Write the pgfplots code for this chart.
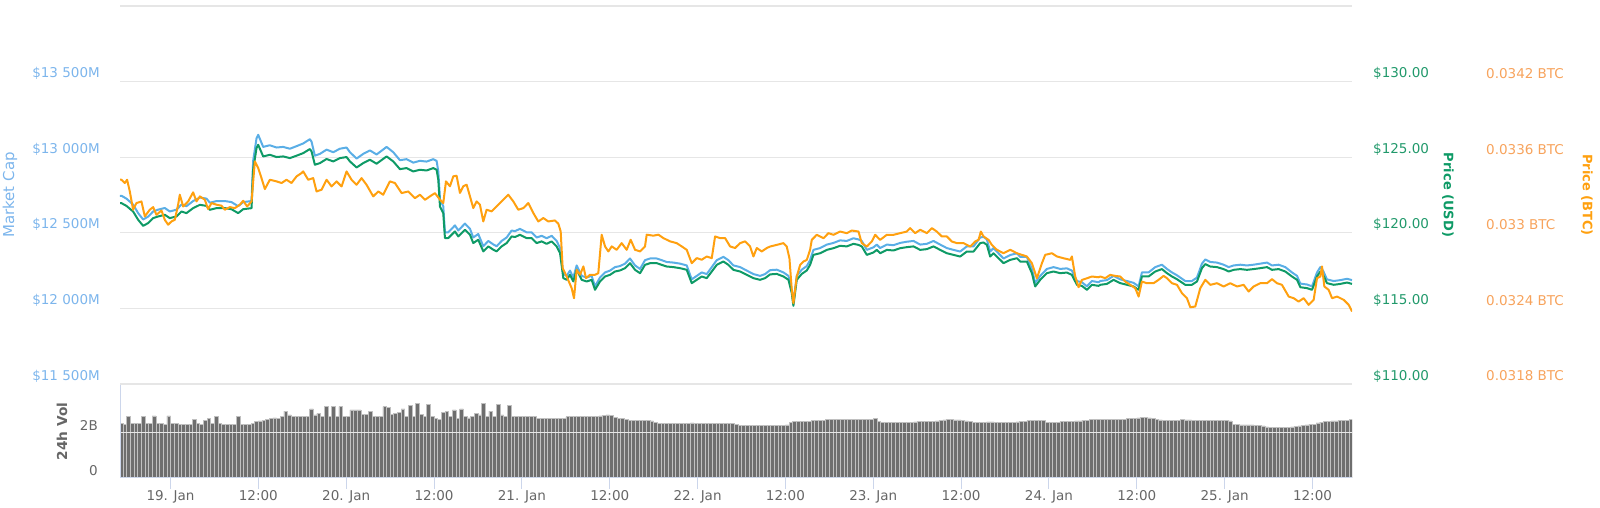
\documentclass[border=0pt]{standalone}
\usepackage{fontspec}
\setmainfont{DejaVu Sans}
\usepackage{pgfplots}
\usepackage{pgfplotstable}
\pgfplotsset{compat=1.18}
\definecolor{mcline}{HTML}{5AAEE6}
\definecolor{mctext}{HTML}{7CB5EC}
\definecolor{usdline}{HTML}{0E9A66}
\definecolor{usdtext}{HTML}{21996B}
\definecolor{btcline}{HTML}{FFA00F}
\definecolor{btctext}{HTML}{F7A35C}
\definecolor{gridc}{HTML}{E6E6E6}
\definecolor{axc}{HTML}{CCD6EB}
\definecolor{labc}{HTML}{666666}
\definecolor{volfill}{HTML}{6E6E6E}
\definecolor{voledge}{HTML}{C0C0C0}

% hours since 19 Jan 00:00, price in USD, market cap in million USD
\pgfplotstableread{
h P MC
-6.9 121.96 12745
-6.70 121.96 12745
-6.02 121.78 12726
-5.11 121.41 12687
-4.42 120.86 12630
-3.74 120.46 12588
-3.06 120.64 12607
-2.37 120.97 12641
-1.69 121.08 12653
-0.78 121.19 12664
-0.10 120.97 12641
0.82 121.08 12653
1.50 121.41 12687
2.18 121.30 12676
3.09 121.63 12710
4.01 121.85 12733
4.92 121.78 12726
5.37 121.52 12699
6.28 121.63 12710
7.42 121.63 12710
8.33 121.56 12703
9.24 121.30 12676
9.93 121.56 12703
11.07 121.63 12710
11.29 124.17 12976
11.75 125.60 13125
11.98 125.82 13148
12.66 125.05 13068
13.57 125.16 13079
14.48 125.01 13064
15.39 125.05 13068
16.31 124.94 13056
17.22 125.10 13073
18.13 125.27 13091
19.04 125.54 13119
19.27 125.38 13102
19.72 124.50 13010
20.41 124.61 13022
21.32 124.88 13050
22.23 124.72 13033
23.14 124.94 13056
24.05 125.01 13064
24.51 124.72 13033
25.42 124.32 12991
26.33 124.61 13022
27.24 124.83 13045
28.15 124.57 13018
29.52 125.05 13068
30.43 124.72 13033
31.34 124.21 12980
32.25 124.28 12987
33.16 124.06 12964
34.07 124.17 12976
34.98 124.12 12971
35.90 124.28 12987
36.35 124.17 12976
36.58 123.51 12907
36.81 121.74 12722
37.26 121.30 12676
37.49 119.65 12503
37.94 119.65 12503
38.40 119.87 12526
38.86 120.09 12549
39.31 119.76 12515
39.77 119.98 12538
40.22 120.20 12561
40.91 119.87 12526
41.36 119.32 12469
42.04 119.54 12492
42.73 118.77 12411
43.41 119.10 12446
44.10 118.88 12423
44.55 118.77 12411
45.23 119.10 12446
45.92 119.32 12469
46.60 119.76 12515
47.06 119.72 12511
47.74 119.87 12526
48.65 119.65 12503
49.33 119.65 12503
50.02 119.32 12469
50.70 119.43 12480
51.38 119.27 12464
52.07 119.43 12480
52.75 119.10 12446
53.21 118.66 12400
53.66 117.00 12227
54.12 116.89 12215
54.57 117.22 12250
55.03 116.78 12204
55.48 117.55 12284
56.17 116.89 12215
56.85 116.78 12204
57.53 116.89 12215
57.99 116.23 12146
58.67 116.78 12204
59.36 117.11 12238
60.04 117.22 12250
60.72 117.44 12273
61.41 117.51 12280
62.09 117.66 12296
62.77 117.99 12330
63.46 117.55 12284
64.14 117.33 12261
64.82 117.88 12319
65.51 117.99 12330
66.42 117.99 12330
67.10 117.88 12319
67.78 117.77 12307
68.70 117.73 12303
69.61 117.66 12296
70.52 117.55 12284
71.20 116.67 12192
71.89 116.89 12215
72.57 117.11 12238
73.25 117.00 12227
73.94 117.44 12273
74.62 117.88 12319
75.53 118.10 12341
76.21 117.88 12319
76.90 117.55 12284
77.81 117.44 12273
78.72 117.22 12250
79.63 117.00 12227
80.54 116.89 12215
81.22 117.00 12227
81.91 117.25 12253
82.82 117.28 12256
83.73 117.11 12238
84.41 116.89 12215
84.87 116.00 12122
85.09 115.17 12035
85.55 116.89 12215
86.23 117.28 12256
86.92 117.51 12280
87.37 117.88 12319
87.83 118.54 12387
88.74 118.65 12399
89.65 118.87 12422
90.56 118.98 12433
91.47 119.14 12450
92.38 119.10 12446
93.29 119.27 12464
93.98 119.20 12456
94.43 119.10 12446
95.12 118.54 12387
96.03 118.70 12404
96.48 118.87 12422
96.94 118.65 12399
97.85 118.87 12422
98.76 118.83 12418
99.67 118.98 12433
100.58 119.05 12441
101.50 119.10 12446
102.41 118.87 12422
103.32 118.92 12427
104.23 119.10 12446
105.14 118.87 12422
106.05 118.65 12399
106.96 118.54 12387
107.87 118.43 12376
108.78 118.76 12410
109.70 118.76 12410
110.61 119.32 12469
111.06 119.36 12473
111.52 119.20 12456
111.97 118.43 12376
112.43 118.65 12399
113.11 118.32 12364
113.80 117.99 12330
114.71 118.21 12353
115.62 118.32 12364
116.07 118.10 12341
116.98 118.10 12341
117.67 117.33 12261
118.12 116.45 12169
118.81 116.89 12215
119.72 117.33 12261
120.63 117.44 12273
121.54 117.33 12261
122.45 117.37 12265
123.13 117.22 12250
123.82 116.56 12181
124.50 116.49 12173
125.18 116.23 12146
125.87 116.56 12181
126.78 116.49 12173
127.01 116.56 12181
127.92 116.62 12187
128.83 116.89 12215
129.74 116.67 12192
130.65 116.56 12181
131.56 116.45 12169
132.25 116.23 12146
132.70 117.11 12238
133.61 117.11 12238
134.52 117.44 12273
135.43 117.60 12289
136.12 117.33 12261
136.80 117.11 12238
137.49 116.93 12219
138.62 116.56 12181
139.53 116.56 12181
140.22 116.78 12204
140.90 117.66 12296
141.36 117.93 12324
142.04 117.77 12307
142.95 117.73 12303
143.86 117.60 12289
144.55 117.44 12273
145.23 117.55 12284
146.14 117.60 12289
147.05 117.55 12284
147.96 117.60 12289
148.87 117.66 12296
149.79 117.73 12303
150.47 117.55 12284
151.38 117.60 12289
152.29 117.44 12273
153.20 117.11 12238
153.89 116.89 12215
154.34 116.40 12164
155.25 116.34 12158
155.94 116.23 12146
156.62 117.11 12238
157.07 117.44 12273
157.44 117.22 12250
157.98 116.67 12192
158.90 116.56 12181
159.81 116.62 12187
160.72 116.71 12196
161.40 116.62 12187
}\usddata

% price in BTC
\pgfplotstableread{
h B
-6.9 0.033421
-6.70 0.033421
-6.25 0.033395
-5.93 0.033421
-5.56 0.033328
-5.11 0.033183
-4.65 0.033236
-3.97 0.033249
-3.51 0.033130
-2.83 0.033183
-2.37 0.033204
-1.92 0.033143
-1.23 0.033177
-0.78 0.033103
-0.32 0.033064
0.13 0.033090
0.59 0.033103
1.04 0.033223
1.27 0.033302
1.73 0.033209
2.41 0.033249
3.09 0.033321
3.55 0.033249
4.01 0.033289
4.69 0.033262
5.14 0.033188
5.60 0.033236
6.28 0.033223
6.97 0.033215
7.42 0.033183
8.10 0.033204
8.79 0.033196
9.47 0.033223
9.93 0.033254
10.47 0.033209
11.07 0.033249
11.52 0.033567
11.98 0.033514
12.43 0.033434
12.89 0.033347
13.57 0.033421
14.48 0.033408
15.17 0.033395
15.85 0.033421
16.53 0.033395
17.22 0.033448
17.90 0.033474
18.13 0.033487
18.81 0.033421
19.49 0.033434
19.95 0.033328
20.63 0.033342
21.32 0.033421
22.00 0.033368
22.68 0.033408
23.37 0.033368
24.05 0.033487
24.73 0.033421
25.42 0.033381
26.10 0.033434
26.78 0.033381
27.69 0.033289
28.38 0.033328
29.06 0.033302
29.97 0.033408
30.66 0.033395
31.57 0.033315
32.48 0.033328
33.39 0.033275
34.07 0.033302
34.76 0.033262
35.44 0.033289
36.12 0.033315
36.81 0.033263
37.26 0.033236
37.63 0.033408
38.17 0.033369
38.63 0.033448
39.08 0.033453
39.54 0.033316
39.99 0.033369
40.45 0.033382
40.91 0.033289
41.36 0.033196
41.82 0.033249
42.27 0.033223
42.73 0.033090
43.18 0.033183
43.87 0.033170
44.55 0.033210
45.46 0.033263
46.14 0.033302
46.83 0.033249
47.51 0.033183
48.20 0.033196
48.88 0.033236
49.56 0.033157
50.24 0.033090
50.93 0.033117
51.61 0.033090
52.52 0.033098
52.98 0.033072
53.30 0.033011
53.57 0.032720
54.12 0.032653
54.80 0.032561
55.12 0.032481
55.48 0.032706
55.94 0.032667
56.40 0.032733
56.76 0.032640
57.31 0.032667
57.99 0.032667
58.44 0.032680
58.90 0.032985
59.36 0.032892
59.81 0.032852
60.27 0.032892
60.95 0.032865
61.63 0.032918
62.32 0.032865
62.86 0.032945
63.46 0.032865
64.14 0.032852
64.82 0.032892
65.05 0.032985
65.96 0.032977
66.65 0.032985
67.33 0.032958
68.24 0.032932
69.15 0.032918
69.83 0.032892
70.52 0.032865
71.20 0.032759
71.89 0.032799
72.57 0.032786
73.25 0.032812
73.94 0.032799
74.39 0.032971
75.07 0.032958
75.76 0.032958
76.44 0.032892
77.12 0.032879
77.81 0.032918
78.49 0.032932
79.17 0.032892
79.63 0.032812
80.09 0.032879
80.77 0.032852
81.45 0.032879
81.91 0.032891
82.82 0.032904
83.73 0.032918
84.18 0.032891
84.55 0.032798
84.87 0.032547
85.09 0.032441
85.55 0.032653
86.01 0.032745
86.46 0.032772
86.92 0.032785
87.37 0.032865
87.60 0.032944
88.28 0.032984
89.20 0.032957
89.88 0.032997
90.56 0.032984
91.47 0.033010
92.38 0.032997
93.07 0.033018
93.98 0.033010
94.43 0.032918
95.12 0.032891
95.80 0.032931
96.26 0.032984
96.94 0.032944
97.85 0.032984
98.76 0.032984
99.67 0.032997
100.58 0.033010
101.04 0.033037
101.72 0.032997
102.41 0.033024
103.32 0.032997
104.00 0.033037
104.68 0.033010
105.37 0.032971
106.05 0.032971
106.73 0.032931
107.42 0.032918
108.33 0.032918
109.24 0.032891
109.92 0.032931
110.38 0.032944
110.70 0.033010
111.06 0.032971
111.75 0.032944
112.20 0.032904
112.89 0.032865
113.80 0.032838
114.71 0.032865
115.62 0.032838
116.30 0.032825
116.98 0.032812
117.67 0.032759
118.35 0.032639
119.04 0.032759
119.49 0.032825
120.40 0.032838
121.09 0.032812
122.00 0.032798
122.91 0.032785
123.13 0.032812
123.59 0.032653
124.05 0.032568
124.50 0.032626
125.18 0.032639
125.87 0.032653
126.78 0.032647
127.01 0.032653
127.69 0.032640
128.37 0.032666
129.06 0.032658
129.74 0.032653
130.42 0.032613
131.11 0.032587
131.79 0.032560
132.25 0.032494
132.70 0.032613
133.38 0.032600
134.30 0.032600
134.98 0.032627
135.66 0.032658
136.12 0.032640
136.80 0.032600
137.49 0.032587
138.17 0.032521
138.85 0.032481
139.31 0.032409
139.99 0.032415
140.67 0.032560
141.36 0.032627
142.04 0.032587
142.95 0.032600
143.86 0.032574
144.77 0.032600
145.69 0.032574
146.60 0.032587
147.28 0.032534
147.96 0.032574
148.87 0.032600
149.79 0.032600
150.47 0.032632
151.15 0.032600
151.83 0.032587
152.75 0.032494
153.43 0.032481
154.11 0.032454
154.80 0.032481
155.48 0.032428
156.16 0.032468
156.62 0.032640
157.07 0.032653
157.30 0.032733
157.62 0.032574
158.21 0.032547
158.67 0.032481
159.36 0.032494
160.26 0.032468
160.95 0.032428
161.40 0.032375
}\btcdata

% 24h volume in billions USD, one bar every half hour from 18 Jan 17:15
\pgfplotstableread[row sep=\\]{v\\
2.40\\2.38\\2.72\\2.40\\2.41\\2.40\\2.73\\2.42\\2.40\\2.74\\
2.41\\2.39\\2.38\\2.74\\2.40\\2.39\\2.37\\2.36\\2.36\\2.38\\
2.60\\2.40\\2.38\\2.55\\2.62\\2.42\\2.72\\2.40\\2.38\\2.37\\
2.37\\2.37\\2.72\\2.37\\2.37\\2.37\\2.40\\
2.48\\2.52\\2.55\\
2.60\\2.62\\2.65\\2.63\\
2.72\\2.95\\2.78\\2.70\\2.70\\2.70\\2.70\\2.72\\3.05\\2.78\\
2.85\\2.72\\3.15\\2.72\\3.15\\2.72\\3.15\\2.72\\2.72\\3.00\\
3.00\\3.00\\2.80\\2.80\\2.95\\2.72\\2.72\\2.72\\3.15\\3.10\\
2.80\\2.85\\
2.90\\3.05\\2.72\\3.20\\2.72\\3.28\\2.80\\2.72\\3.25\\2.72\\
2.62\\2.60\\2.90\\2.95\\2.72\\3.00\\2.62\\3.05\\2.72\\2.65\\
2.72\\2.85\\2.78\\3.30\\2.72\\2.95\\2.72\\3.25\\2.78\\2.72\\3.20\\2.72\\2.70\\2.70\\2.70\\2.70\\2.70\\2.70\\
2.64\\2.64\\2.63\\2.64\\2.63\\2.64\\2.64\\2.64\\
2.70\\2.71\\2.71\\2.72\\2.72\\2.72\\2.72\\2.73\\2.73\\2.74\\2.76\\2.78\\2.76\\
2.68\\2.63\\2.62\\2.60\\
2.55\\2.54\\2.53\\2.53\\2.53\\2.53\\2.52\\
2.45\\2.42\\2.42\\2.41\\2.41\\2.41\\2.41\\2.41\\2.41\\2.41\\
2.43\\2.42\\2.42\\2.42\\2.40\\2.42\\2.42\\2.42\\2.42\\2.42\\
2.41\\2.40\\2.36\\2.33\\2.32\\
2.31\\2.31\\2.32\\2.31\\2.31\\2.31\\2.32\\2.32\\2.31\\2.31\\2.31\\2.34\\
2.45\\2.49\\2.50\\2.50\\2.49\\2.50\\2.55\\2.55\\2.55\\2.55\\2.57\\
2.59\\2.60\\2.60\\2.60\\2.60\\2.60\\2.60\\2.60\\2.60\\2.60\\2.60\\2.60\\2.62\\
2.50\\2.45\\2.44\\2.44\\2.44\\2.44\\2.44\\2.45\\2.45\\2.46\\2.47\\
2.48\\2.49\\2.49\\2.50\\2.50\\2.52\\
2.54\\2.56\\2.57\\2.58\\2.56\\2.56\\2.55\\2.52\\
2.48\\2.46\\2.46\\2.46\\2.46\\2.47\\2.47\\2.46\\2.46\\2.46\\2.46\\2.46\\2.46\\2.47\\2.48\\2.50\\2.53\\
2.53\\2.54\\2.54\\2.53\\2.46\\
2.44\\2.44\\2.46\\2.48\\2.49\\2.50\\
2.51\\2.52\\2.52\\2.53\\2.55\\2.58\\2.58\\
2.59\\2.59\\2.59\\2.60\\2.60\\2.60\\2.60\\2.60\\2.61\\2.62\\2.63\\
2.65\\2.66\\2.66\\2.65\\2.64\\
2.58\\2.56\\2.54\\2.53\\2.53\\2.54\\2.55\\2.58\\2.56\\2.56\\
2.55\\2.55\\2.55\\2.54\\2.54\\2.54\\2.54\\2.54\\2.53\\2.53\\2.52\\
2.38\\2.36\\2.34\\2.34\\2.34\\2.34\\2.33\\2.33\\2.30\\
2.25\\2.24\\2.24\\2.24\\2.24\\2.24\\2.24\\2.25\\2.26\\
2.30\\2.32\\2.34\\2.35\\2.38\\
2.43\\2.46\\2.48\\2.50\\2.52\\2.52\\2.53\\2.55\\2.55\\2.57\\
}\voldata

\newcommand{\tl}{\fontsize{13.5}{16}\selectfont}
\pgfplotsset{
  toppanel/.style={
    scale only axis, width=1232pt, height=378pt,
    at={(120pt,124pt)}, anchor=south west,
    xmin=-6.9, xmax=161.4,
    xtick=\empty, axis line style={draw=none},
    major tick length=0pt, tick style={draw=none},
    scaled y ticks=false, scaled x ticks=false,
    every tick label/.append style={font=\tl},
  },
}

\begin{document}
\begin{tikzpicture}
\path[use as bounding box] (0pt,0pt) rectangle (1600pt,508pt);

% market cap axis (left) with the grid
\begin{axis}[toppanel,
  ymin=11500, ymax=14000,
  ytick={11500,12000,12500,13000,13500},
  yticklabels={\$11 500M,\$12 000M,\$12 500M,\$13 000M,\$13 500M},
  extra y ticks={14000}, extra y tick labels={},
  extra y tick style={grid=major},
  ymajorgrids, grid style={draw=gridc, line width=1.2pt},
  yticklabel style={text=mctext, anchor=east, inner sep=0pt, xshift=-20pt, yshift=8pt},
  every axis y label/.style={at={(axis description cs:-0.0893,0.5)}, anchor=center, rotate=90},
  ylabel={Market Cap},
  ylabel style={font=\fontsize{15}{18}\selectfont, text=mctext},
]
\addplot[mcline, line width=2pt, line join=round] table[x=h, y=MC] {\usddata};
\end{axis}

% price USD axis (right)
\begin{axis}[toppanel,
  ymin=110, ymax=135,
  ytick={110,115,120,125,130},
  yticklabels={\$110.00,\$115.00,\$120.00,\$125.00,\$130.00},
  yticklabel pos=right,
  yticklabel style={text=usdtext, anchor=west, inner sep=0pt, xshift=21pt, yshift=8pt},
  every axis y label/.style={at={(axis description cs:1.0779,0.5)}, anchor=center, rotate=-90},
  ylabel={Price (USD)},
  ylabel style={font=\bfseries\fontsize{13}{16}\selectfont, text=usdline},
]
\addplot[usdline, line width=2pt, line join=round] table[x=h, y=P] {\usddata};
\end{axis}

% price BTC axis (far right)
\begin{axis}[toppanel,
  ymin=0.0318, ymax=0.0348,
  ytick={0.0318,0.0324,0.0330,0.0336,0.0342},
  yticklabels={0.0318 BTC,0.0324 BTC,0.033 BTC,0.0336 BTC,0.0342 BTC},
  yticklabel pos=right,
  yticklabel style={text=btctext, anchor=west, inner sep=0pt, xshift=134pt, yshift=8pt},
  every axis y label/.style={at={(axis description cs:1.1907,0.5)}, anchor=center, rotate=-90},
  ylabel={Price (BTC)},
  ylabel style={font=\bfseries\fontsize{13}{16}\selectfont, text=btcline},
]
\addplot[btcline, line width=2pt, line join=round] table[x=h, y=B] {\btcdata};
\end{axis}

% volume panel
\begin{axis}[
  scale only axis, width=1232pt, height=93pt,
  at={(120pt,30pt)}, anchor=south west,
  xmin=-6.9, xmax=161.4, ymin=0, ymax=4.1,
  scaled y ticks=false, scaled x ticks=false,
  axis x line*=bottom, axis y line*=left,
  axis line style={-, draw=axc, line width=1pt},
  xtick={0,12,...,156},
  xticklabels={19. Jan,12:00,20. Jan,12:00,21. Jan,12:00,22. Jan,12:00,23. Jan,12:00,24. Jan,12:00,25. Jan,12:00},
  tick align=outside, major tick length=11pt,
  xtick style={draw=axc, line width=1pt},
  ytick={0,2}, yticklabels={0,2B},
  ytick style={draw=none},
  ymajorgrids, grid style={draw=gridc, line width=1pt},
  axis on top,
  every tick label/.append style={font=\tl, text=labc},
  xticklabel style={inner sep=0pt, anchor=north, yshift=-1pt},
  yticklabel style={inner sep=0pt, anchor=east, xshift=-11pt, yshift=7pt},
  every axis y label/.style={at={(axis description cs:-0.0471,0.5)}, anchor=center, rotate=90},
  ylabel={24h Vol},
  ylabel style={font=\bfseries\fontsize{13.7}{16}\selectfont, text=labc},
]
\addplot[ybar, bar width=3.66pt, fill=volfill, draw=voledge, line width=0.6pt]
  table[x expr=\coordindex*0.5-6.75, y=v] {\voldata};
\end{axis}
\end{tikzpicture}
\end{document}
